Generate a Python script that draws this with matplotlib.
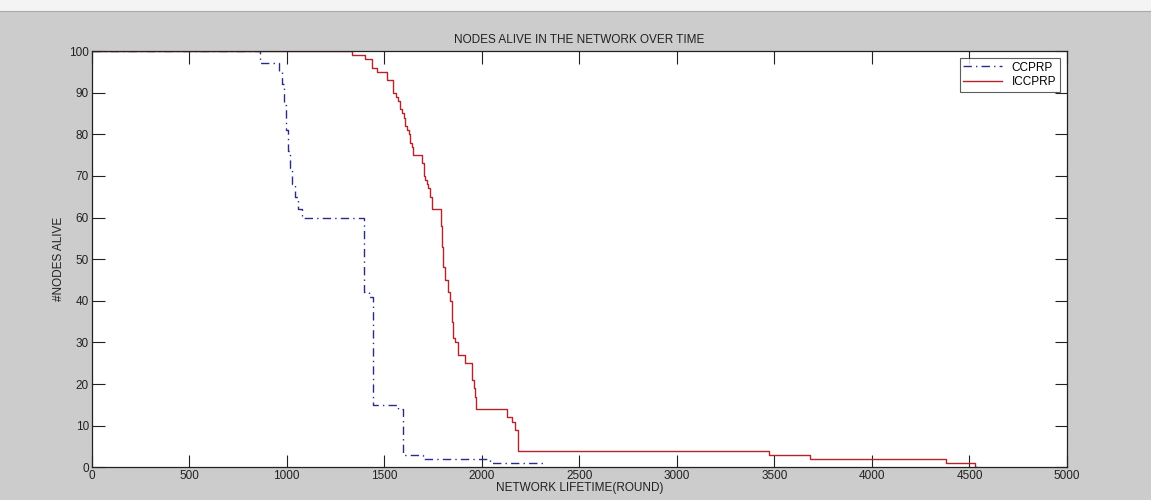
import matplotlib.pyplot as plt
from matplotlib.patches import Rectangle

# data (step breakpoints)
ccprp_round = [0, 865, 940, 960, 975, 985, 995, 1005, 1015, 1025, 1040, 1060, 1080,
               1398, 1420, 1440, 1572, 1598, 1700, 2040, 2320]
ccprp_alive = [100, 97, 97, 95, 92, 87, 81, 76, 72, 68, 65, 62, 60,
               42, 41, 15, 14, 3, 2, 1, 1]

iccprp_round = [0, 1333, 1401, 1436, 1461, 1513, 1547, 1558, 1570, 1581, 1590, 1600, 1607,
                1615, 1625, 1632, 1640, 1649, 1692, 1701, 1710, 1718, 1726, 1735, 1744,
                1777, 1790, 1795, 1803, 1812, 1829, 1837, 1846, 1854, 1863, 1880, 1914,
                1940, 1949, 1960, 1966, 1971, 2111, 2128, 2154, 2171, 2183, 3470, 3680,
                4380, 4530, 4540]
iccprp_alive = [100, 99, 98, 96, 95, 93, 90, 89, 88, 86, 85, 84, 82,
                81, 80, 78, 77, 75, 73, 70, 69, 68, 67, 65, 62,
                62, 58, 53, 48, 45, 42, 40, 35, 31, 30, 27, 25,
                25, 21, 19, 17, 14, 14, 12, 11, 9, 4, 3, 2,
                1, 0, 0]

xticks = list(range(0, 5001, 500))
yticks = list(range(0, 101, 10))

plt.rcParams['font.family'] = ['Liberation Sans', 'DejaVu Sans']

fig = plt.figure(figsize=(11.51, 5), dpi=100)
fig.patch.set_facecolor('#cccccc')
# light toolbar strip at the very top
fig.patches.append(Rectangle((0, 0.978), 1, 0.022, transform=fig.transFigure,
                             facecolor='#f4f4f4', edgecolor='none'))
fig.lines.append(plt.Line2D([0, 1], [0.978, 0.978], transform=fig.transFigure,
                            color='#a8a8a8', linewidth=0.8))

ax = fig.add_axes([0.0797, 0.0654, 0.8473, 0.8326])
ax.set_facecolor('white')

ax.plot(ccprp_round, ccprp_alive, drawstyle='steps-post', color='#2a2a8c',
        linestyle=(0, (6, 3, 1, 3)), linewidth=1.0, label='CCPRP')
ax.plot(iccprp_round, iccprp_alive, drawstyle='steps-post', color='#b8232b',
        linestyle='-', linewidth=1.0, label='ICCPRP')

ax.set_xlim(0, 5000)
ax.set_ylim(0, 100)
ax.set_xticks(xticks)
ax.set_yticks(yticks)
ax.tick_params(direction='in', length=9, width=0.8, labelsize=8.5,
               top=True, right=True, colors='#222222', pad=2)
for s in ax.spines.values():
    s.set_linewidth(0.9)
    s.set_color('#222222')

ax.set_title('NODES ALIVE IN THE NETWORK OVER TIME', fontsize=8.5, pad=6, color='#222222')
ax.set_xlabel('NETWORK LIFETIME(ROUND)', fontsize=8.5, labelpad=0, color='#222222')
ax.set_ylabel('#NODES ALIVE', fontsize=8.5, labelpad=3, color='#222222')

leg = ax.legend(loc='upper right', fontsize=8.5, frameon=True, fancybox=False,
                edgecolor='#333333', borderpad=0.3, labelspacing=0.2,
                handlelength=3.3, borderaxespad=0.6)
leg.get_frame().set_linewidth(0.8)

fig.savefig('out.png', dpi=100, facecolor=fig.get_facecolor())
